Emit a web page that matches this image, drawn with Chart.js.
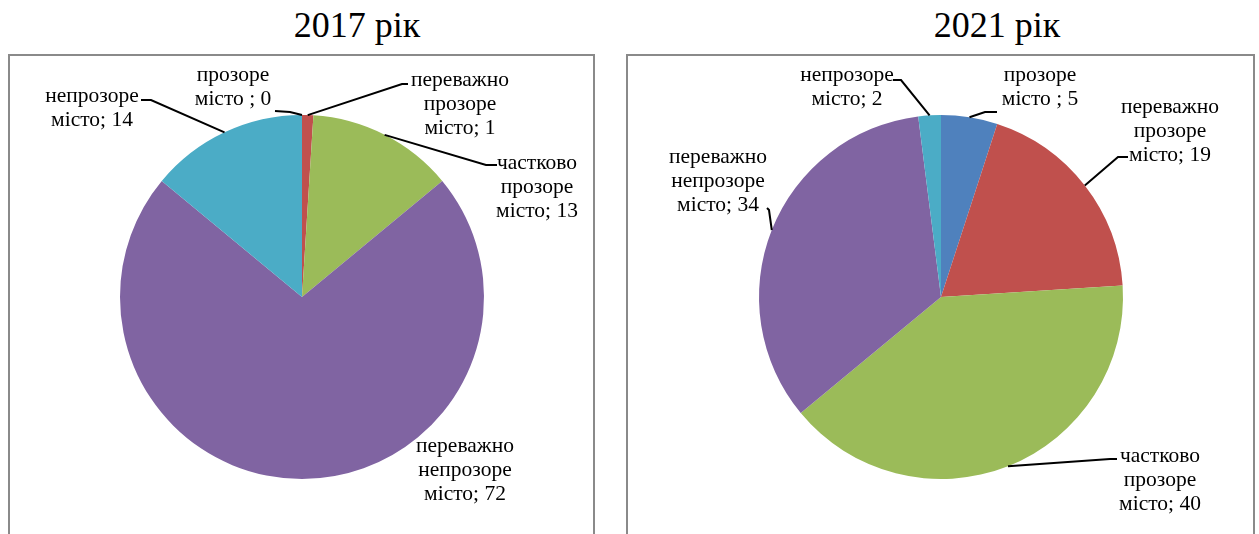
<!DOCTYPE html>
<html>
<head>
<meta charset="utf-8">
<script src="https://cdn.jsdelivr.net/npm/chart.js@4.4.1/dist/chart.umd.min.js"></script>
<style>
  body { margin: 0; background: #fff; width: 1259px; height: 534px; overflow: hidden; position: relative; }
  .title { position: absolute; top: 4px; width: 300px; text-align: center; font: 36px "Liberation Serif", serif; color: #000; }
  .box { position: absolute; top: 54px; height: 520px; border: 2px solid #8a8a8a; background: #fff; }
  canvas { position: absolute; left: 0; top: 0; }
</style>
</head>
<body>
<div class="title" style="left:207px">2017 рік</div>
<div class="title" style="left:847px">2021 рік</div>
<div class="box" style="left:8px; width:583px"><canvas id="pie2017" width="583" height="478"></canvas></div>
<div class="box" style="left:626px; width:625px"><canvas id="pie2021" width="625" height="478"></canvas></div>
<script>
// categories (one entry per line of the label)
const categories = [
    ['прозоре', 'місто '],
    ['переважно', 'прозоре', 'місто'],
    ['частково', 'прозоре', 'місто'],
    ['переважно', 'непрозоре', 'місто'],
    ['непрозоре', 'місто'],
];
const values2017 = [0, 1, 13, 72, 14];
const values2021 = [5, 19, 40, 34, 2];
const colors = ['#4F81BD', '#C0504D', '#9BBB59', '#8064A2', '#4BACC6'];

// label layout, relative to pie centre: text centre, leader elbow, leader end
const labels2017 = [
    { text: [-69, -210], elbow: [-12, -185], end: [-27, -186] },
    { text: [158, -193], elbow: [100, -213], end: [106, -213] },
    { text: [235, -110], elbow: [184, -132], end: [195, -132] },
    { text: [163, 173], elbow: null, end: null },
    { text: [-210, -189], elbow: [-151, -197], end: [-161, -197] },
];
const labels2021 = [
    { text: [99, -210], elbow: [44, -185], end: [56, -185] },
    { text: [229, -166], elbow: [177, -140], end: [187, -140] },
    { text: [219, 183], elbow: [169, 162], end: [176, 162] },
    { text: [-223, -116], elbow: [-172, -87], end: [-174, -89] },
    { text: [-94, -210], elbow: [-40, -217], end: [-48, -217] },
];

const labelFont = '21.5px "Liberation Serif", "Times New Roman", serif';

// draw data labels with leader lines
const calloutPlugin = {
    id: 'callouts',
    afterDraw(chart, args, opts) {
        const ctx = chart.ctx;
        const meta = chart.getDatasetMeta(0);
        const values = chart.data.datasets[0].data;
        ctx.save();
        meta.data.forEach((arc, i) => {
            const p = arc.getProps(['x', 'y', 'startAngle', 'endAngle', 'outerRadius'], true);
            const pos = opts.layout[i];
            const cx = p.x, cy = p.y;
            if (pos.elbow) {
                const mid = (p.startAngle + p.endAngle) / 2;
                ctx.strokeStyle = '#000';
                ctx.lineWidth = 2;
                ctx.beginPath();
                ctx.moveTo(cx + p.outerRadius * Math.cos(mid), cy + p.outerRadius * Math.sin(mid));
                ctx.lineTo(cx + pos.elbow[0], cy + pos.elbow[1]);
                ctx.lineTo(cx + pos.end[0], cy + pos.end[1]);
                ctx.stroke();
            }
            const lines = categories[i].slice();
            lines[lines.length - 1] = lines[lines.length - 1] + '; ' + values[i];
            ctx.fillStyle = '#000';
            ctx.font = labelFont;
            ctx.textAlign = 'center';
            ctx.textBaseline = 'middle';
            const lh = 24;
            const top = cy + pos.text[1] - (lines.length - 1) * lh / 2;
            lines.forEach((line, k) => {
                ctx.fillText(line, cx + pos.text[0], top + k * lh);
            });
        });
        ctx.restore();
    },
};

const makePie = (id, values, layout, padding) => {
    return new Chart(document.getElementById(id), {
        type: 'pie',
        data: {
            labels: categories.map((c) => c.join(' ').trim()),
            datasets: [
                {
                    data: values,
                    backgroundColor: colors,
                    borderWidth: 0,
                },
            ],
        },
        options: {
            responsive: false,
            animation: false,
            layout: { padding: padding },
            plugins: {
                legend: { display: false },
                tooltip: { enabled: false },
                callouts: { layout: layout },
            },
        },
        plugins: [calloutPlugin],
    });
};

// make sure the serif font is ready before the canvas text is drawn
document.fonts.load(labelFont, 'прозоре місто').finally(() => {
    makePie('pie2017', values2017, labels2017, { left: 110, right: 109, top: 59, bottom: 55 });
    makePie('pie2021', values2021, labels2021, { left: 131, right: 130, top: 59, bottom: 55 });
});
</script>
</body>
</html>
